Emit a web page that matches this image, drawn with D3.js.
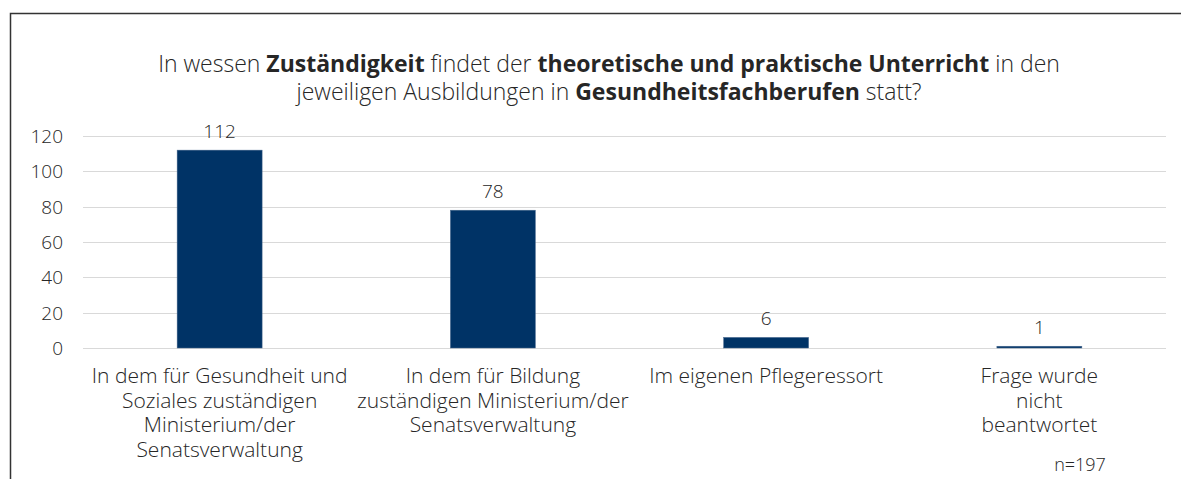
<!DOCTYPE html>
<html>
<head>
<meta charset="utf-8">
<script src="https://cdn.jsdelivr.net/npm/d3@7"></script>
<style>
  body { margin:0; background:#fff; }
  svg text { font-family: "Open Sans", "Noto Sans", sans-serif; fill:#262626; font-weight:300; }
</style>
</head>
<body>
<svg id="chart" width="1181" height="479"></svg>
<script>
// data
var categories = [
  ["In dem für Gesundheit und", "Soziales zuständigen", "Ministerium/der", "Senatsverwaltung"],
  ["In dem für Bildung", "zuständigen Ministerium/der", "Senatsverwaltung"],
  ["Im eigenen Pflegeressort"],
  ["Frage wurde", "nicht", "beantwortet"]
];
var values = [112, 78, 6, 1];
var yTicks = [0, 20, 40, 60, 80, 100, 120];

var marge = {top:136, bottom:131, left:83, right:5};
var svg = d3.select("#chart");
var width = +svg.attr("width");
var height = +svg.attr("height");

// rahmen
svg.append("path")
   .attr("d", "M10.5,479 L10.5,13.5 L1181,13.5")
   .attr("fill", "none")
   .attr("stroke", "#333")
   .attr("stroke-width", 1.5);

// titel
var title = svg.append("text").attr("text-anchor", "middle").style("font-size", "23px");
var t1 = title.append("tspan").attr("x", 609).attr("y", 72);
t1.append("tspan").text("In wessen ");
t1.append("tspan").style("font-weight", "bold").text("Zuständigkeit");
t1.append("tspan").text(" findet der ");
t1.append("tspan").style("font-weight", "bold").text("theoretische und praktische Unterricht");
t1.append("tspan").text(" in den");
var t2 = title.append("tspan").attr("x", 609).attr("y", 100);
t2.append("tspan").text("jeweiligen Ausbildungen in ");
t2.append("tspan").style("font-weight", "bold").text("Gesundheitsfachberufen");
t2.append("tspan").text(" statt?");

var x = d3.scaleBand()
          .domain(d3.range(values.length))
          .range([marge.left, width - marge.right])
          .paddingInner(0.689)
          .paddingOuter(0.3445);
var y = d3.scaleLinear().domain([0, 120]).range([height - marge.bottom, marge.top]);

// gitterlinien
svg.append("g").selectAll("line").data(yTicks).enter().append("line")
   .attr("x1", marge.left).attr("x2", 1166)
   .attr("y1", function(d){ return Math.round(y(d)) + 0.5; })
   .attr("y2", function(d){ return Math.round(y(d)) + 0.5; })
   .attr("stroke", "#d9d9d9").attr("stroke-width", 1);

// y achse
var yAxis = svg.append("g")
   .attr("transform", "translate(" + (marge.left - 20) + ",0)")
   .call(d3.axisLeft(y).tickValues(yTicks).tickSize(0).tickPadding(0));
yAxis.select(".domain").remove();
yAxis.selectAll("text").style("font-size", "19px").attr("fill", "#262626").attr("dy", "0.35em")
     .style("font-family", "'Open Sans', sans-serif").style("font-weight", 300);

// balken
svg.append("g").selectAll("rect").data(values).enter().append("rect")
   .attr("x", function(d, i){ return x(i); })
   .attr("y", function(d){ return y(d); })
   .attr("width", x.bandwidth())
   .attr("height", function(d){ return y(0) - y(d); })
   .attr("fill", "#003366")
   .attr("stroke", "#4a6a8f")
   .attr("stroke-width", 0.5);

// werte
svg.append("g").selectAll("text").data(values).enter().append("text")
   .attr("x", function(d, i){ return x(i) + x.bandwidth() / 2; })
   .attr("y", function(d){ return y(d) - 12; })
   .attr("text-anchor", "middle")
   .style("font-size", "19px")
   .text(function(d){ return d; });

// kategorien
var cats = svg.append("g").selectAll("text").data(categories).enter().append("text")
   .attr("text-anchor", "middle")
   .style("font-size", "21px");
cats.each(function(lines, i){
  var sel = d3.select(this);
  lines.forEach(function(l, j){
    sel.append("tspan")
       .attr("x", x(i) + x.bandwidth() / 2)
       .attr("y", 383 + j * 24.5)
       .text(l);
  });
});

svg.append("text")
   .attr("x", 1080).attr("y", 471)
   .attr("text-anchor", "middle")
   .style("font-size", "18px")
   .text("n=197");
</script>
</body>
</html>
